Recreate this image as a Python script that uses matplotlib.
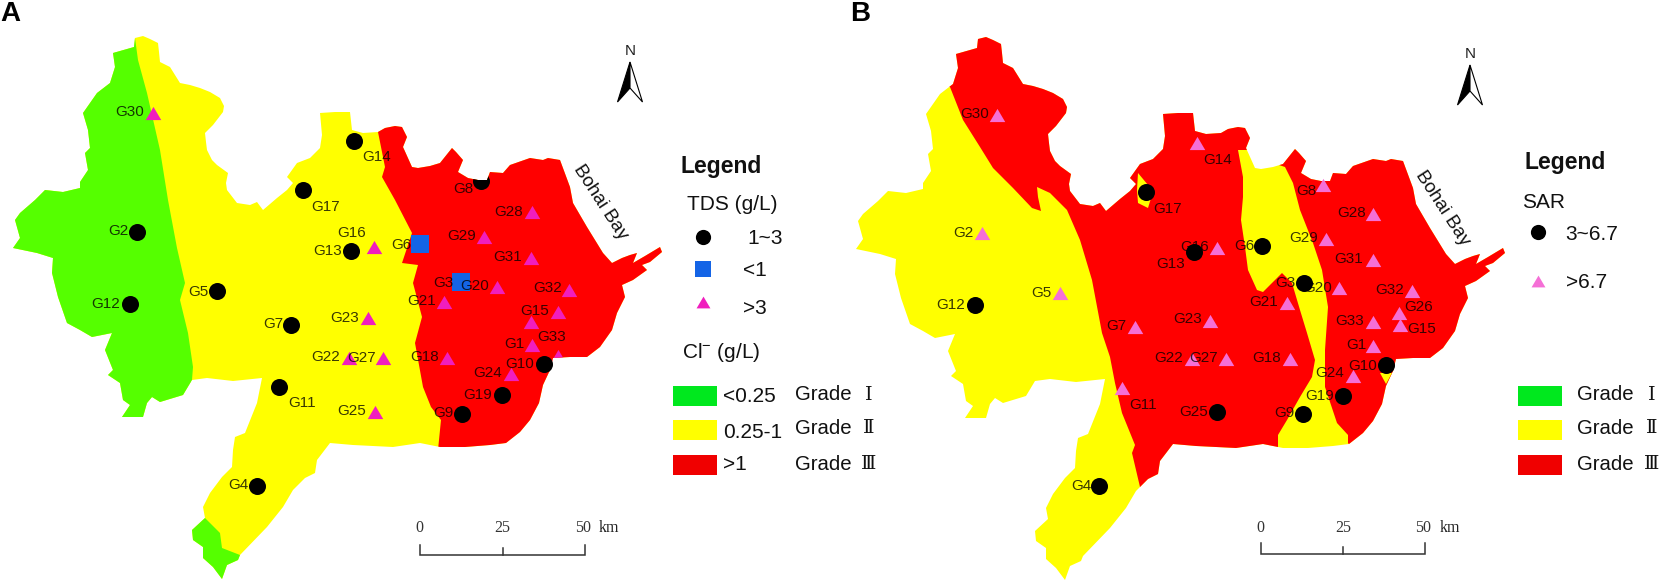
import matplotlib
matplotlib.use('Agg')
import matplotlib.pyplot as plt
from matplotlib.patches import Polygon, Rectangle

plt.rcParams['font.family'] = ['Liberation Sans', 'DejaVu Sans']
plt.rcParams['mathtext.fontset'] = 'custom'
plt.rcParams['mathtext.rm'] = 'Liberation Sans'
plt.rcParams['mathtext.default'] = 'regular'

GREEN = '#55FF00'
YELLOW = '#FFFF00'
RED = '#FF0000'

# outline of the study area, map A position
outline = [
    (135, 38), (143, 36), (150, 39), (158, 43), (159, 52), (160, 62), (170, 67), (175, 75), (180, 83),
    (190, 85), (200, 88), (210, 92), (220, 98), (224, 106), (223, 112), (213, 125), (205, 133), (206, 142),
    (207, 150), (212, 160), (217, 165), (228, 173), (226, 183), (227, 190), (237, 203), (250, 205),
    (257, 202), (263, 210), (277, 198), (287, 190), (293, 183), (287, 177), (297, 163), (310, 158),
    (320, 148), (322, 135), (320, 113), (335, 112), (350, 112), (352, 130), (363, 133), (378, 132),
    (385, 128), (395, 126), (402, 127), (407, 137), (403, 147), (412, 167), (418, 168), (430, 166),
    (440, 163), (452, 148), (456, 152), (463, 160), (458, 172), (468, 178), (478, 180), (487, 180),
    (490, 172), (503, 173), (510, 165), (530, 158), (543, 160), (548, 158), (560, 160), (570, 187),
    (573, 203), (587, 227), (603, 253), (612, 263), (622, 258), (630, 255), (637, 253), (633, 263),
    (645, 256), (660, 247), (662, 252), (650, 262), (642, 265), (647, 270), (633, 280), (622, 285),
    (625, 297), (617, 313), (612, 330), (600, 347), (587, 357), (570, 357), (553, 358), (550, 370),
    (543, 385), (539, 403), (530, 420), (520, 432), (506, 443), (490, 445), (465, 447), (440, 447),
    (420, 443), (393, 447), (353, 445), (330, 443), (317, 460), (315, 473), (305, 478), (293, 490),
    (283, 507), (267, 527), (240, 555), (238, 560), (227, 565), (222, 579), (213, 567), (203, 558),
    (203, 547), (193, 540), (192, 530), (205, 518), (203, 507), (210, 493), (222, 477), (232, 467),
    (233, 450), (235, 437), (245, 433), (257, 403), (262, 378), (233, 381), (207, 378), (192, 380),
    (183, 395), (160, 402), (152, 397), (147, 403), (143, 417), (122, 417), (130, 405), (123, 400),
    (120, 383), (108, 375), (113, 370), (105, 350), (112, 333), (92, 337), (80, 330), (67, 323),
    (58, 297), (57, 293), (52, 273), (53, 258), (37, 253), (13, 248), (20, 238), (15, 220), (20, 213),
    (35, 200), (45, 190), (63, 192), (80, 188), (80, 182), (88, 170), (85, 153), (90, 148), (88, 130),
    (83, 113), (97, 93), (110, 83), (115, 67), (113, 53), (134, 47),
]

# grade zones of map A
a_green_west = [(135, 38), (138, 60), (147, 93), (160, 150), (168, 200), (177, 248), (185, 283), (180, 300),
                (188, 333), (193, 367), (192, 380), (183, 420), (0, 430), (0, 30)]
a_green_south = [(205, 518), (220, 533), (222, 548), (240, 555), (240, 590), (180, 590), (180, 518)]
a_red = [(378, 120), (378, 132), (385, 167), (382, 177), (395, 200), (412, 233), (408, 245), (402, 263),
         (418, 265), (413, 283), (422, 317), (415, 343), (423, 387), (431, 407), (441, 420), (438, 450),
         (700, 450), (700, 100), (378, 100)]

# grade zones of map B
b_red_main = [(950, 87), (963, 120), (980, 147), (993, 168), (1013, 188), (1032, 208), (1041, 211),
              (1038, 197), (1037, 187), (1050, 193), (1067, 210), (1080, 240), (1092, 280), (1102, 333),
              (1110, 357), (1115, 383), (1122, 413), (1135, 445), (1132, 453), (1140, 487), (1170, 520),
              (1278, 470), (1278, 435), (1287, 420), (1300, 397), (1312, 377), (1315, 360), (1307, 333),
              (1300, 310), (1292, 283), (1282, 273), (1272, 283), (1263, 292), (1257, 290), (1248, 270),
              (1245, 247), (1241, 220), (1243, 197), (1243, 177), (1238, 150), (1250, 150), (1255, 110),
              (1000, 10), (930, 30), (930, 80)]
b_red_east = [(1273, 163), (1285, 167), (1293, 183), (1300, 210), (1313, 243), (1322, 270), (1328, 307),
              (1325, 350), (1325, 387), (1337, 423), (1348, 435), (1348, 443), (1370, 470), (1700, 470),
              (1700, 100), (1273, 100)]
b_yellow_g17 = [(1138, 173), (1148, 185), (1152, 195), (1148, 208), (1138, 203), (1137, 190)]
b_yellow_g10 = [(1380, 373), (1392, 373), (1386, 384)]

# stations, map A: name, kind, x, y, label x, label y
a_names = ['G30', 'G2', 'G5', 'G12', 'G7', 'G11', 'G4', 'G14', 'G17', 'G13', 'G16', 'G6', 'G3', 'G8', 'G28',
           'G29', 'G31', 'G20', 'G21', 'G32', 'G15', '', 'G1', 'G33', 'G10', 'G18', 'G24', 'G19', 'G9',
           'G23', 'G27', 'G22', 'G25']
a_kind = ['t', 'c', 'c', 'c', 'c', 'c', 'c', 'c', 'c', 'c', 't', 's', 's', 'c', 't',
          't', 't', 't', 't', 't', 't', 't', 't', 't', 'c', 't', 't', 'c', 'c',
          't', 't', 't', 't']
a_x = [153, 137, 217, 130, 291, 279, 257, 354, 303, 351, 374, 420, 461, 481, 532,
       484, 531, 497, 444, 569, 558, 531, 532, 558, 544, 447, 511, 502, 462,
       368, 383, 349, 375]
a_y = [113, 232, 291, 304, 325, 387, 486, 141, 190, 251, 247, 244, 282, 181, 212,
       237, 258, 287, 302, 290, 312, 322, 345, 356, 364, 358, 374, 395, 414,
       318, 358, 358, 412]
a_lx = [130, 118, 198, 106, 273, 302, 238, 377, 326, 328, 352, 401, 443, 463, 509,
        462, 508, 475, 422, 548, 535, 531, 514, 552, 520, 425, 488, 478, 443,
        345, 362, 326, 352]
a_ly = [112, 231, 292, 304, 324, 403, 485, 157, 207, 251, 233, 245, 283, 189, 212,
        236, 257, 286, 301, 288, 311, 322, 344, 337, 364, 357, 373, 395, 413,
        318, 358, 357, 411]

# stations, map B
b_names = ['G30', 'G2', 'G5', 'G12', 'G7', 'G11', 'G4', 'G14', 'G17', 'G13', 'G16', 'G6', 'G3', 'G20', 'G29',
           'G8', 'G28', 'G31', 'G21', 'G32', 'G26', 'G15', 'G33', 'G1', 'G10', 'G24', 'G19', 'G9', 'G18',
           'G27', 'G22', 'G23', 'G25']
b_kind = ['t', 't', 't', 'c', 't', 't', 'c', 't', 'c', 'c', 't', 'c', 'c', 't', 't',
          't', 't', 't', 't', 't', 't', 't', 't', 't', 'c', 't', 'c', 'c', 't',
          't', 't', 't', 'c']
b_x = [997, 982, 1060, 975, 1135, 1122, 1099, 1197, 1146, 1194, 1217, 1262, 1304, 1339, 1326,
       1323, 1373, 1373, 1287, 1412, 1399, 1400, 1373, 1373, 1386, 1353, 1343, 1303, 1290,
       1226, 1192, 1210, 1217]
b_y = [115, 233, 293, 305, 327, 388, 486, 143, 192, 252, 248, 246, 283, 288, 239,
       185, 214, 260, 303, 291, 313, 325, 322, 346, 365, 376, 396, 414, 359,
       359, 359, 321, 412]
b_lx = [975, 963, 1041, 951, 1116, 1143, 1081, 1218, 1168, 1171, 1195, 1244, 1285, 1318, 1304,
        1306, 1352, 1349, 1264, 1390, 1419, 1422, 1350, 1356, 1363, 1330, 1320, 1284, 1267,
        1204, 1169, 1188, 1194]
b_ly = [114, 233, 293, 305, 326, 405, 486, 160, 209, 264, 247, 246, 283, 288, 238,
        191, 213, 259, 302, 290, 307, 329, 321, 345, 366, 373, 396, 413, 358,
        358, 358, 319, 412]

a_clipped = ['G14', 'G8', 'G33']
b_dx, b_dy = 843, 1

TRI = [(-1, -0.85), (1, -0.85), (0, 0.85)]


def draw_zone(ax, pts, color, clip):
    p = Polygon(pts, closed=True, facecolor=color, edgecolor='none', zorder=2)
    ax.add_patch(p)
    p.set_clip_path(clip)


def draw_stations(ax, names, kind, xs, ys, lxs, lys, tri_color, clip=None, clipped=()):
    for name, k, x, y, lx, ly in zip(names, kind, xs, ys, lxs, lys):
        if k == 'c':
            m = ax.scatter(x, y, s=150, c='black', marker='o', linewidths=0, zorder=6)
        elif k == 's':
            m = ax.scatter(x, y, s=150, c='#1464E6', marker='s', linewidths=0, zorder=3)
        else:
            m = ax.scatter(x, y, s=125, c=tri_color, marker=TRI, linewidths=0, zorder=3)
        if name in clipped:
            m.set_clip_path(clip)
        if name:
            ax.text(lx, ly, name, fontsize=11, ha='center', va='center', color='black', alpha=0.78, zorder=5)


def north_arrow(ax, x, tip, label_y):
    ax.text(x, label_y, 'N', fontsize=11, ha='center', va='center', color='#222222', zorder=5)
    ax.add_patch(Polygon([(x, tip), (x - 12.5, tip + 40), (x, tip + 26)], closed=True, facecolor='black',
                         edgecolor='black', linewidth=0.8, zorder=5))
    ax.add_patch(Polygon([(x, tip), (x + 12.5, tip + 40), (x, tip + 26)], closed=True, facecolor='white',
                         edgecolor='black', linewidth=0.8, zorder=5))


def scale_bar(ax, x0, x1, base, top, mid_top, label_y, km_x):
    xm = (x0 + x1) / 2
    ax.plot([x0, x0, x1, x1], [top, base, base, top], color='#333333', lw=1.1, solid_joinstyle='miter')
    ax.plot([xm, xm], [base, mid_top], color='#333333', lw=1.1)
    for x, t in zip([x0 - 1, xm, x1 - 2], ['0', '25', '50']):
        ax.text(x, label_y, t, fontsize=11.5, family='Liberation Serif', ha='center', va='center', color='#333333')
    ax.text(km_x, label_y, 'km', fontsize=11.5, family='Liberation Serif', ha='center', va='center', color='#222222')


def grade_rows(ax, rect_x, text_x, num_x):
    rect_y = [386, 420, 455]
    colors = ['#00E81E', '#FFFF00', '#F00000']
    text_y = [395, 428, 464]
    for ry, col, ty, g in zip(rect_y, colors, text_y, ['Ⅰ', 'Ⅱ', 'Ⅲ']):
        ax.add_patch(Rectangle((rect_x, ry), 44, 19.5, facecolor=col, edgecolor='none', zorder=2))
        ax.text(text_x, ty, 'Grade', fontsize=14.7, ha='left', va='center', color='#111111')
        ax.text(num_x, ty, g, fontsize=14, ha='center', va='center', color='#111111', family='DejaVu Serif')


fig = plt.figure(figsize=(16.62, 5.87), dpi=100)
ax = fig.add_axes([0, 0, 1, 1])
ax.set_xlim(0, 1662)
ax.set_ylim(587, 0)
ax.axis('off')

# map A
clip_a = Polygon(outline, closed=True, facecolor=YELLOW, edgecolor='none', zorder=1)
ax.add_patch(clip_a)
draw_zone(ax, a_green_west, GREEN, clip_a)
draw_zone(ax, a_green_south, GREEN, clip_a)
draw_zone(ax, a_red, RED, clip_a)
draw_stations(ax, a_names, a_kind, a_x, a_y, a_lx, a_ly, '#F01EBE', clip_a, a_clipped)

# map B
outline_b = [(x + b_dx, y + b_dy) for x, y in outline]
clip_b = Polygon(outline_b, closed=True, facecolor=YELLOW, edgecolor='none', zorder=1)
ax.add_patch(clip_b)
draw_zone(ax, b_red_main, RED, clip_b)
draw_zone(ax, b_red_east, RED, clip_b)
draw_zone(ax, b_yellow_g17, YELLOW, clip_b)
draw_zone(ax, b_yellow_g10, YELLOW, clip_b)
draw_stations(ax, b_names, b_kind, b_x, b_y, b_lx, b_ly, '#F56FD6')

# panel letters
ax.text(0, 14, 'A', fontsize=20, fontweight='bold', ha='left', va='center', color='black')
ax.text(850, 14, 'B', fontsize=20, fontweight='bold', ha='left', va='center', color='black')

# bay names
ax.text(600, 202, 'Bohai Bay', fontsize=13.5, rotation=-57, ha='center', va='center', rotation_mode='anchor', color='#111111')
ax.text(1442, 208, 'Bohai Bay', fontsize=13.5, rotation=-57, ha='center', va='center', rotation_mode='anchor', color='#111111')

north_arrow(ax, 630, 62, 51)
north_arrow(ax, 1470, 65, 54)
scale_bar(ax, 420, 585, 555, 545, 548, 528, 609)
scale_bar(ax, 1261, 1425, 554, 543, 547, 528, 1450)

# legend A
ax.text(680, 167, 'Legend', fontsize=16.5, fontweight='bold', ha='left', va='center', color='#111111')
ax.text(687, 204, 'TDS (g/L)', fontsize=15, ha='left', va='center', color='#111111')
ax.scatter(703, 237, s=120, c='black', marker='o', linewidths=0)
ax.scatter(703, 269, s=120, c='#1464E6', marker='s', linewidths=0)
ax.scatter(703, 302, s=100, c='#F01EBE', marker=TRI, linewidths=0)
ax.text(747, 239, '1~3', fontsize=15, ha='left', va='center', color='#111111')
ax.text(743, 271, '<1', fontsize=15, ha='left', va='center', color='#111111')
ax.text(743, 308, '>3', fontsize=15, ha='left', va='center', color='#111111')
ax.text(682, 352, 'Cl$^{-}$ (g/L)', fontsize=15, ha='left', va='center', color='#111111')
grade_rows(ax, 673, 795, 869)
ax.text(723, 397, '<0.25', fontsize=15, ha='left', va='center', color='#111111')
ax.text(723, 432, '0.25-1', fontsize=15, ha='left', va='center', color='#111111')
ax.text(723, 465, '>1', fontsize=15, ha='left', va='center', color='#111111')

# legend B
ax.text(1525, 162, 'Legend', fontsize=16.5, fontweight='bold', ha='left', va='center', color='#111111')
ax.text(1522, 203, 'SAR', fontsize=15, ha='left', va='center', color='#111111')
ax.scatter(1538, 232, s=120, c='black', marker='o', linewidths=0)
ax.scatter(1538, 281, s=100, c='#F56FD6', marker=TRI, linewidths=0)
ax.text(1565, 235, '3~6.7', fontsize=15, ha='left', va='center', color='#111111')
ax.text(1566, 282, '>6.7', fontsize=15, ha='left', va='center', color='#111111')
grade_rows(ax, 1518, 1577, 1652)

fig.savefig('out.png', dpi=100)
plt.close()
